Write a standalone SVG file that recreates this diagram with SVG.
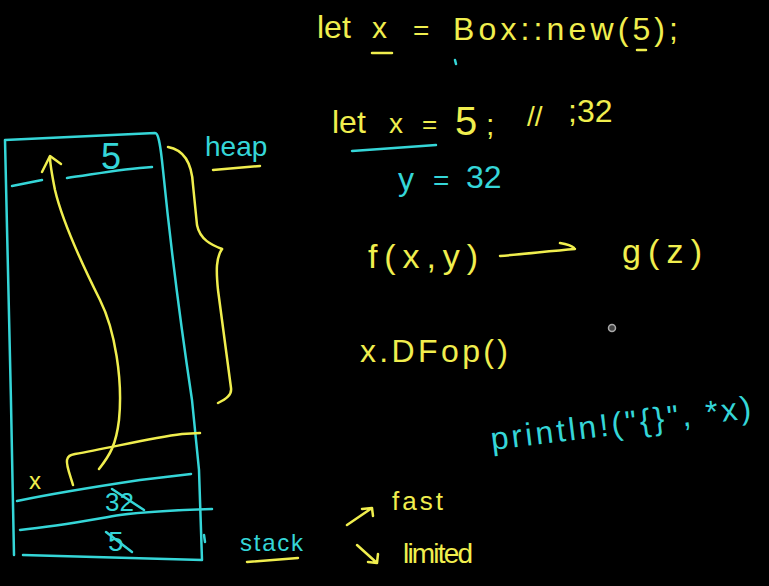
<svg xmlns="http://www.w3.org/2000/svg" width="769" height="586" viewBox="0 0 769 586">
<style>
.y{fill:#f0ee4e;font-family:"Liberation Sans",Arial,sans-serif}
.c{fill:#35d6d8;font-family:"Liberation Sans",Arial,sans-serif}
.ys{fill:none;stroke:#f0ee4e;stroke-width:2.5;stroke-linecap:round;stroke-linejoin:round}
.cs{fill:none;stroke:#35d6d8;stroke-width:2.5;stroke-linecap:round;stroke-linejoin:round}
</style>
<rect width="769" height="586" fill="#000"/>

<!-- top code line -->
<text class="y" x="317" y="38" font-size="32">let</text>
<text class="y" x="372" y="38" font-size="30">x</text>
<path class="ys" d="M372,53 L392,53"/>
<text class="y" x="413" y="40" font-size="28">=</text>
<text class="y" x="453" y="40" font-size="32" textLength="225" lengthAdjust="spacing">Box::new(5);</text>
<path class="ys" d="M637,50 L646,50"/>
<path class="cs" d="M455,60 L456,64" stroke-width="1.5"/>

<!-- let x = 5 -->
<text class="y" x="332" y="133" font-size="32">let</text>
<text class="y" x="389" y="133" font-size="28">x</text>
<text class="y" x="422" y="133" font-size="26">=</text>
<text class="y" x="455" y="135" font-size="40">5</text>
<text class="y" x="486" y="135" font-size="30">;</text>
<text class="y" x="527" y="126" font-size="28">//</text>
<text class="y" x="568" y="122" font-size="32">;32</text>
<path class="cs" d="M352,151 C380,149 410,147 436,145"/>

<text class="c" x="398" y="190" font-size="32">y</text>
<text class="c" x="433" y="190" font-size="28">=</text>
<text class="c" x="466" y="188" font-size="32">32</text>

<!-- f(x,y) -> g(z) -->
<text class="y" x="368" y="268" font-size="34" textLength="110" lengthAdjust="spacing">f(x,y)</text>
<path class="ys" d="M500,256 C525,254 550,251 575,249 M560,243 C566,244 571,245 574,248"/>
<text class="y" x="622" y="263" font-size="34" textLength="80" lengthAdjust="spacing">g(z)</text>

<text class="y" x="360" y="362" font-size="32" textLength="148" lengthAdjust="spacing">x.DFop()</text>

<circle cx="612" cy="328" r="3.5" fill="#444" stroke="#aaa" stroke-width="1.5"/>

<text class="c" x="492" y="450" font-size="32" textLength="262" lengthAdjust="spacing" transform="rotate(-7 492 450)">println!("{}", *x)</text>

<!-- memory box -->
<path class="cs" d="M14,555 C12,420 7,250 5,140 L155,133 C158,133 160,140 163,170 C170,240 180,320 192,400 L199,470 L202,560 L23,555"/>
<path class="cs" d="M12,186 L42,180 M67,178 C90,175 120,169 152,167"/>
<text class="c" x="101" y="169" font-size="36">5</text>

<path class="cs" d="M17,501 C60,492 100,486 140,480 L191,474"/>
<path class="cs" d="M20,530 C60,526 90,520 120,515 C150,511 180,510 212,509"/>
<path class="cs" d="M204,535 L205,542"/>
<text class="c" x="105" y="511" font-size="26">32</text>
<path class="cs" d="M112,489 L144,510"/>
<text class="c" x="108" y="551" font-size="28">5</text>
<path class="cs" d="M106,532 L132,552"/>
<text class="y" x="29" y="489" font-size="24">x</text>

<!-- pointer arrow -->
<path class="ys" d="M99,469 C110,455 116,445 119,420 C123,380 115,330 100,300 C80,260 62,220 55,190 C52,175 50,165 50,157"/>
<path class="ys" d="M42,172 L50,156 L61,164"/>
<path class="ys" d="M73,485 C70,475 66,465 67,460 C68,456 70,455 75,454 C110,448 150,438 182,434 L200,433"/>

<!-- heap brace -->
<path class="ys" d="M168,147 C185,150 192,165 193,185 L197,225 C200,240 212,245 222,249"/>
<path class="ys" d="M222,249 C216,258 216,270 218,290 L231,388 C232,395 226,399 218,403"/>
<text class="c" x="205" y="156" font-size="28">heap</text>
<path class="ys" d="M213,170 L260,166"/>

<!-- stack labels -->
<text class="c" x="240" y="551" font-size="24" textLength="63" lengthAdjust="spacing">stack</text>
<path class="ys" d="M247,562 L298,558"/>
<path class="ys" d="M347,525 L372,508 M362,509 L372,508 L373,516"/>
<text class="y" x="392" y="510" font-size="26" textLength="51" lengthAdjust="spacing">fast</text>
<path class="ys" d="M357,545 L377,563 M368,562 L377,563 L378,554"/>
<text class="y" x="403" y="563" font-size="28" textLength="70" lengthAdjust="spacing">limited</text>
</svg>
